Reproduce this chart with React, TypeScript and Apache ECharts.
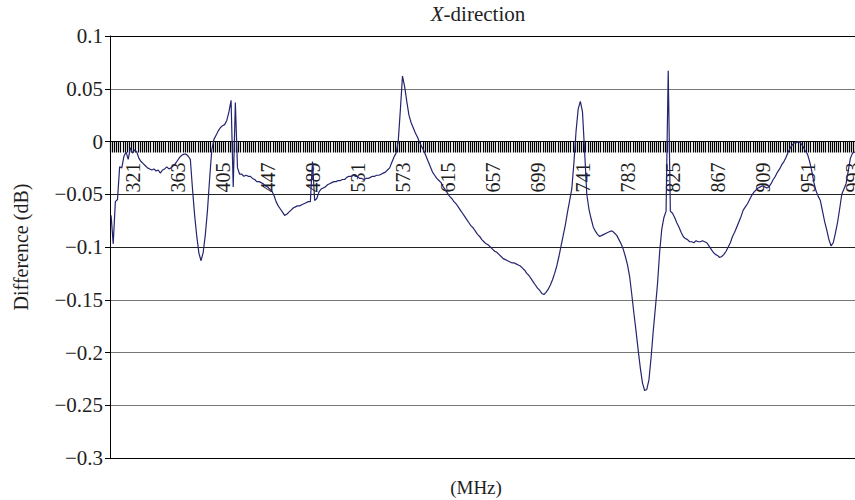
import React, { useEffect, useRef } from "react";
import * as echarts from "echarts";

// Frequency grid: 301 MHz, step 2 MHz
const START_MHZ = 301;
const STEP_MHZ = 2;

// Difference (dB), one value per 2 MHz step
const differenceDb: number[] = [
  -0.070, -0.097, -0.057, -0.055, -0.024, -0.025, -0.014, -0.010, -0.017, -0.006,
  -0.011, -0.008, -0.010, -0.016, -0.019, -0.021, -0.023, -0.025, -0.026, -0.027,
  -0.026, -0.028, -0.027, -0.030, -0.027, -0.026, -0.024, -0.026, -0.025, -0.023,
  -0.021, -0.018, -0.015, -0.013, -0.012, -0.012, -0.014, -0.017, -0.045, -0.070,
  -0.090, -0.106, -0.113, -0.105, -0.088, -0.065, -0.035, -0.008, 0.002, 0.006,
  0.010, 0.013, 0.015, 0.016, 0.020, 0.028, 0.039, -0.043, 0.037, -0.025,
  -0.031, -0.031, -0.033, -0.032, -0.033, -0.033, -0.035, -0.036, -0.038, -0.038,
  -0.039, -0.040, -0.042, -0.043, -0.045, -0.047, -0.051, -0.057, -0.061, -0.064,
  -0.067, -0.070, -0.069, -0.067, -0.065, -0.063, -0.062, -0.061, -0.061, -0.060,
  -0.059, -0.058, -0.057, -0.057, -0.019, -0.056, -0.054, -0.048, -0.045, -0.044,
  -0.043, -0.041, -0.040, -0.039, -0.038, -0.038, -0.037, -0.037, -0.036, -0.036,
  -0.034, -0.033, -0.033, -0.032, -0.033, -0.033, -0.035, -0.035, -0.036, -0.035,
  -0.035, -0.034, -0.033, -0.033, -0.032, -0.032, -0.031, -0.030, -0.029, -0.027,
  -0.025, -0.020, -0.015, -0.011, 0.000, 0.030, 0.062, 0.052, 0.038, 0.025,
  0.018, 0.013, 0.008, 0.004, -0.001, -0.005, -0.009, -0.014, -0.019, -0.024,
  -0.029, -0.032, -0.035, -0.037, -0.039, -0.043, -0.046, -0.049, -0.052, -0.054,
  -0.057, -0.059, -0.062, -0.065, -0.068, -0.071, -0.074, -0.077, -0.080, -0.082,
  -0.085, -0.088, -0.090, -0.093, -0.095, -0.097, -0.098, -0.100, -0.102, -0.104,
  -0.105, -0.107, -0.109, -0.111, -0.112, -0.113, -0.114, -0.115, -0.115, -0.116,
  -0.117, -0.118, -0.120, -0.122, -0.125, -0.127, -0.130, -0.133, -0.136, -0.139,
  -0.141, -0.144, -0.145, -0.143, -0.140, -0.136, -0.131, -0.125, -0.118, -0.109,
  -0.099, -0.089, -0.079, -0.067, -0.056, -0.045, -0.020, 0.010, 0.031, 0.038,
  0.028, -0.010, -0.050, -0.064, -0.073, -0.081, -0.085, -0.088, -0.090, -0.089,
  -0.088, -0.087, -0.086, -0.085, -0.085, -0.087, -0.089, -0.093, -0.097, -0.102,
  -0.109, -0.117, -0.128, -0.145, -0.163, -0.180, -0.198, -0.215, -0.229, -0.236,
  -0.235, -0.226, -0.205, -0.180, -0.158, -0.135, -0.105, -0.083, -0.072, -0.066,
  0.067, -0.066, -0.068, -0.072, -0.077, -0.081, -0.086, -0.090, -0.092, -0.093,
  -0.095, -0.095, -0.096, -0.094, -0.095, -0.095, -0.094, -0.095, -0.096, -0.099,
  -0.102, -0.105, -0.107, -0.108, -0.110, -0.109, -0.107, -0.104, -0.100, -0.096,
  -0.090, -0.086, -0.081, -0.076, -0.071, -0.065, -0.062, -0.059, -0.055, -0.051,
  -0.048, -0.046, -0.044, -0.043, -0.042, -0.043, -0.044, -0.043, -0.040, -0.036,
  -0.033, -0.029, -0.026, -0.022, -0.019, -0.015, -0.010, -0.006, -0.003, -0.001,
  -0.001, 0.000, -0.002, -0.005, -0.009, -0.012, -0.019, -0.028, -0.039, -0.047,
  -0.052, -0.056, -0.066, -0.076, -0.084, -0.093, -0.099, -0.096, -0.087, -0.077,
  -0.064, -0.050, -0.045, -0.040, -0.028, -0.016, -0.011, -0.010, -0.010, -0.010,
];

// Category labels (MHz)
const frequencies: string[] = differenceDb.map((_, i) => String(START_MHZ + STEP_MHZ * i));

// Visible frequency labels: 321, 363, ... every 42 MHz
const FIRST_LABEL_INDEX = 10;
const LABEL_EVERY = 21;

// Y axis ticks
const Y_MIN = -0.3;
const Y_MAX = 0.1;
const Y_STEP = 0.05;

const TITLE_MAIN = "X";
const TITLE_REST = "-direction";
const X_NAME = "(MHz)";
const Y_NAME = "Difference (dB)";

const FONT = "Liberation Serif";
const TEXT = "#1e1e1e";

// layout
const GRID_TOP = 36;
const GRID_BOTTOM = 42;
const CHART_H = 500;

export default function App() {
  const ref = useRef<HTMLDivElement>(null);

  useEffect(() => {
    if (!ref.current) return;
    const chart = echarts.init(ref.current, null, { renderer: "svg" });
    const plotH = CHART_H - GRID_TOP - GRID_BOTTOM;
    // distance from plot bottom up to the zero line
    const zeroOffset = (plotH * (0 - Y_MIN)) / (Y_MAX - Y_MIN);
    chart.setOption({
      animation: false,
      backgroundColor: "#ffffff",
      textStyle: { fontFamily: FONT },
      grid: { left: 110, top: GRID_TOP, right: -5, bottom: GRID_BOTTOM, containLabel: false, outerBoundsMode: "none" },
      graphic: [
        {
          type: "text",
          x: 478,
          y: 14,
          style: {
            text: `{i|${TITLE_MAIN}}{n|${TITLE_REST}}`,
            rich: {
              i: { fontStyle: "italic", fontFamily: FONT, fontSize: 21, fill: TEXT },
              n: { fontFamily: FONT, fontSize: 21, fill: TEXT },
            },
            fontFamily: FONT,
            fontSize: 21,
            fill: TEXT,
            textAlign: "center",
            textVerticalAlign: "middle",
          },
        },
        {
          type: "text",
          x: 476,
          y: 487,
          style: {
            text: X_NAME,
            fontFamily: FONT,
            fontSize: 19,
            fill: TEXT,
            textAlign: "center",
            textVerticalAlign: "middle",
          },
        },
      ],
      xAxis: {
        type: "category",
        data: frequencies,
        boundaryGap: true,
        position: "bottom",
        offset: -zeroOffset,
        axisLine: { show: true, onZero: false, lineStyle: { color: "#000", width: 1 } },
        axisTick: { show: true, interval: 0, length: 11, lineStyle: { color: "#000", width: 1.2 } },
        axisLabel: {
          interval: (idx: number) => idx >= FIRST_LABEL_INDEX && (idx - FIRST_LABEL_INDEX) % LABEL_EVERY === 0,
          rotate: 90,
          margin: 21,
          fontFamily: FONT,
          fontSize: 20,
          color: TEXT,
        },
        splitLine: { show: false },
      },
      yAxis: {
        type: "value",
        min: Y_MIN,
        max: Y_MAX,
        interval: Y_STEP,
        name: Y_NAME,
        nameLocation: "middle",
        nameGap: 79,
        nameTextStyle: { fontFamily: FONT, fontSize: 20, color: TEXT },
        axisLine: { show: true, lineStyle: { color: "#000", width: 1 } },
        axisTick: { show: true, length: 5, lineStyle: { color: "#000", width: 1 } },
        axisLabel: {
          margin: 7,
          fontFamily: FONT,
          fontSize: 21,
          color: TEXT,
          formatter: (v: number) => {
            const s = String(+v.toFixed(2));
            return s.replace("-", "\u2212");
          },
        },
        splitLine: {
          show: true,
          lineStyle: {
            color: ["#000", "#777", "#777", "#777", "#222", "#222", "#222", "#777", "#000"],
            width: 1,
          },
        },
      },
      series: [
        {
          type: "line",
          data: differenceDb,
          showSymbol: false,
          symbol: "none",
          lineStyle: { color: "#24246f", width: 1.2 },
          z: 5,
        },
      ],
    });
    return () => chart.dispose();
  }, []);

  return (
    <div
      ref={ref}
      style={{ position: "absolute", left: 0, top: 0, width: 855, height: 500 }}
    />
  );
}
